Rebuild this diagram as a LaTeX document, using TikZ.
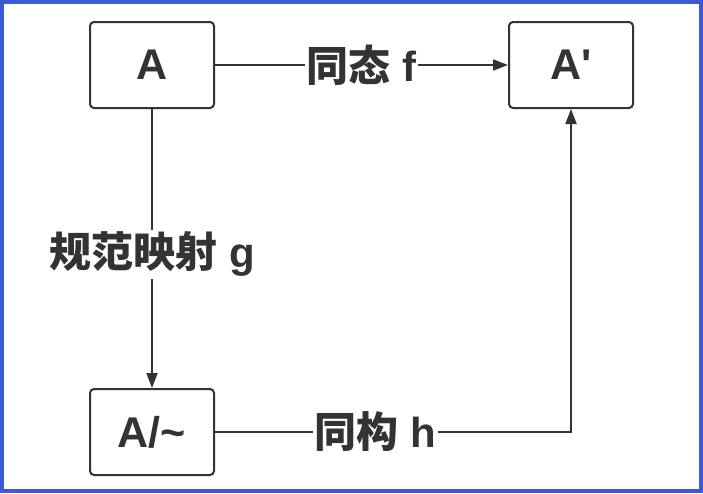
\documentclass[tikz,border=0pt]{standalone}
\usepackage{fontspec}
\setmainfont{Liberation Sans}[Ligatures=TeXOff]
\newfontfamily\cjk{Noto Sans CJK SC}
\usetikzlibrary{arrows.meta}
\definecolor{edgegray}{HTML}{333333}
\definecolor{frameblue}{HTML}{3C5AD7}
\tikzstyle{setbox} = [rectangle, rounded corners=4pt, minimum width=124pt, minimum height=86pt, text centered, draw=edgegray, line width=2pt, text=edgegray, font=\fontsize{43}{50}\selectfont\bfseries]
\tikzstyle{arrow} = [draw=edgegray, line width=2pt, -{Triangle[length=15pt,width=11pt]}]
\tikzstyle{maplabel} = [fill=white, inner sep=2pt, text=edgegray, font=\fontsize{42}{50}\selectfont\bfseries]

\begin{document}
\begin{tikzpicture}[x=1pt,y=-1pt]
\useasboundingbox (0,0) rectangle (703,493);
\draw [frameblue, line width=3.5pt] (1.75,1.75) rectangle (701,491);

\node (set) [setbox] at (152,65) {A};
\node (img) [setbox] at (571,65) {A'};
\node (quot) [setbox] at (152,432) {A/\textasciitilde};
\coordinate (bend) at (img |- quot);

\draw [arrow] (set) -- node [maplabel] {{\cjk 同态} f} (img);
\draw [arrow] (set) -- node [maplabel, pos=0.52] {{\cjk 规范映射} g} (quot);
\path [arrow] (quot) -- node [maplabel, pos=0.45] {{\cjk 同构} h} (bend) -- (img);
\end{tikzpicture}
\end{document}
